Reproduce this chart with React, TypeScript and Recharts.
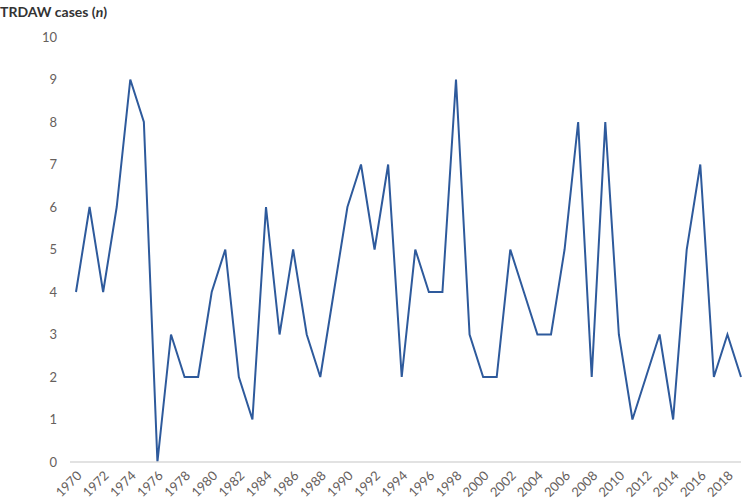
import React from "react";
import { LineChart, Line, XAxis, YAxis } from "recharts";

const years: number[] = [
  1970, 1971, 1972, 1973, 1974, 1975, 1976, 1977, 1978, 1979,
  1980, 1981, 1982, 1983, 1984, 1985, 1986, 1987, 1988, 1989,
  1990, 1991, 1992, 1993, 1994, 1995, 1996, 1997, 1998, 1999,
  2000, 2001, 2002, 2003, 2004, 2005, 2006, 2007, 2008, 2009,
  2010, 2011, 2012, 2013, 2014, 2015, 2016, 2017, 2018, 2019,
];

const cases: number[] = [
  4, 6, 4, 6, 9, 8, 0, 3, 2, 2,
  4, 5, 2, 1, 6, 3, 5, 3, 2, 4,
  6, 7, 5, 7, 2, 5, 4, 4, 9, 3,
  2, 2, 5, 4, 3, 3, 5, 8, 2, 8,
  3, 1, 2, 3, 1, 5, 7, 2, 3, 2,
];

const xTicks: number[] = [
  1970, 1972, 1974, 1976, 1978, 1980, 1982, 1984, 1986, 1988, 1990, 1992,
  1994, 1996, 1998, 2000, 2002, 2004, 2006, 2008, 2010, 2012, 2014, 2016, 2018,
];

const yTicks: number[] = [0, 1, 2, 3, 4, 5, 6, 7, 8, 9, 10];

const data = years.map((y, i) => ({ year: y, cases: cases[i] }));

const FONT = "Lato, 'Open Sans', sans-serif";
const TICK_COLOR = "#66605d";

export default function App() {
  return (
    <div style={{ position: "absolute", left: 0, top: 0, width: 750, height: 502, background: "#fff", fontFamily: FONT }}>
      <div
        style={{
          position: "absolute",
          left: 0,
          top: 3,
          fontSize: 14,
          fontWeight: 700,
          color: "#333",
          fontFamily: FONT,
          whiteSpace: "nowrap",
        }}
      >
        TRDAW cases (<i>n</i>)
      </div>
      <LineChart
        width={750}
        height={502}
        data={data}
        margin={{ top: 37, right: 9, left: 0, bottom: 0 }}
      >
        <XAxis
          dataKey="year"
          type="number"
          domain={[1970, 2019]}
          ticks={xTicks}
          interval={0}
          padding={{ left: 6, right: 0 }}
          axisLine={{ stroke: "#d9d9d9", strokeWidth: 1.5 }}
          tickLine={false}
          tickSize={0}
          tickMargin={8}
          height={40}
          angle={-45}
          textAnchor="end"
          tick={{ fill: TICK_COLOR, fontSize: 13, fontFamily: FONT }}
        />
        <YAxis
          domain={[0, 10]}
          ticks={yTicks}
          interval={0}
          width={70}
          axisLine={false}
          tickLine={false}
          tickSize={0}
          tickMargin={13}
          tick={{ fill: TICK_COLOR, fontSize: 13, fontFamily: FONT }}
        />
        <Line
          type="linear"
          dataKey="cases"
          stroke="#2e5a9c"
          strokeWidth={2}
          dot={false}
          isAnimationActive={false}
        />
      </LineChart>
    </div>
  );
}
